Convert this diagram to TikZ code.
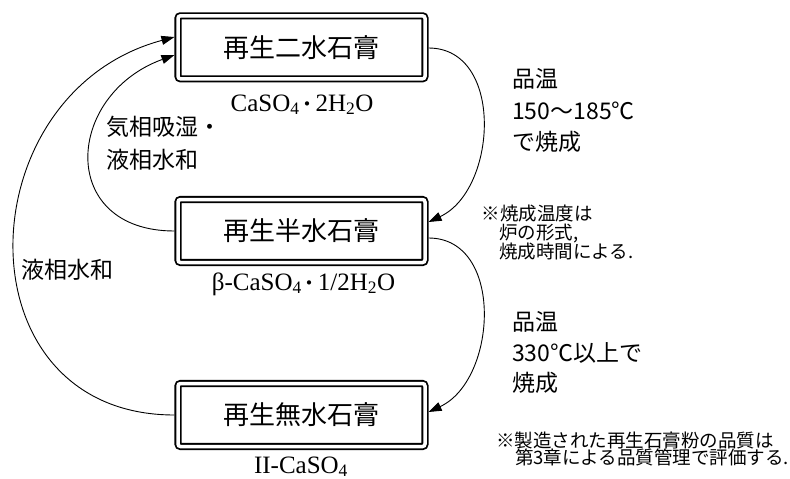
\documentclass[tikz,border=0pt]{standalone}
\usepackage{fontspec}
\setmainfont{Noto Sans CJK JP}
\newfontfamily\tms{Liberation Serif}
\usetikzlibrary{arrows.meta}
\newcommand\gypdot{\makebox[16pt][c]{\rmfamily\fontsize{20}{20}\selectfont ・}}
\begin{document}
\begin{tikzpicture}[x=1pt,y=-1pt,
  boxnode/.style={draw, line width=1.8pt, double, double distance=3.5pt, rounded corners=2.5pt,
    minimum width=247pt, minimum height=63pt, inner sep=0pt, outer sep=3.55pt,
    font=\fontsize{26}{26}\selectfont},
  conn/.style={line width=0.9pt, -{Triangle[length=13pt,width=9pt]}},
  lbl/.style={anchor=base west, inner sep=0pt, font=\fontsize{23}{23}\selectfont},
  note/.style={anchor=base west, inner sep=0pt, font=\fontsize{18.5}{18.5}\selectfont},
  formula/.style={anchor=base, inner sep=0pt, font=\tms\fontsize{25}{25}\selectfont}]
\useasboundingbox (0,0) rectangle (790,479);
\fill[white] (0,0) rectangle (790,479);

\node[boxnode] (b1) at (301.5,47.3) {再生二水石膏};
\node[boxnode] (b2) at (301.5,231) {再生半水石膏};
\node[boxnode] (b3) at (301.5,415) {再生無水石膏};

\node[formula] (f1) at (302,111) {CaSO\textsubscript{4}\gypdot 2H\textsubscript{2}O};
\node[formula] (f2) at (303.5,290) {β-CaSO\textsubscript{4}\gypdot 1/2H\textsubscript{2}O};
\node[formula] (f3) at (301,473) {II-CaSO\textsubscript{4}};

\draw[conn] (b3.west) to[out=180,in=195,distance=217pt] ([yshift=10.3pt]b1.west);
\draw[conn] (b2.west) to[out=180,in=200,distance=117pt] ([yshift=-7.7pt]b1.west);
\draw[conn] ([yshift=-0.7pt]b1.east) to[out=0,in=25,distance=76pt] ([yshift=9pt]b2.east);
\draw[conn] ([yshift=-7pt]b2.east) to[out=0,in=25,distance=76pt] ([yshift=3pt]b3.east);

\node[lbl] (r1a) at (512,87) {品温};
\node[lbl] (r1b) at (512,119) {150〜185℃};
\node[lbl] (r1c) at (512,150) {で焼成};
\node[lbl] (r2a) at (512,330) {品温};
\node[lbl] (r2b) at (512,361.5) {330℃以上で};
\node[lbl] (r2c) at (512,391.5) {焼成};
\node[lbl] (l1a) at (106,135) {気相吸湿・};
\node[lbl] (l1b) at (106,168.5) {液相水和};
\node[lbl] (l2) at (21.5,278.5) {液相水和};

\node[note] (n1a) at (481.5,220.5) {※焼成温度は};
\node[note] (n1b) at (499,239) {炉の形式,};
\node[note] (n1c) at (499,258.5) {焼成時間による.};
\node[note] (n2a) at (496,447) {※製造された再生石膏粉の品質は};
\node[note] (n2b) at (515,464) {第3章による品質管理で評価する.};
\end{tikzpicture}
\end{document}
